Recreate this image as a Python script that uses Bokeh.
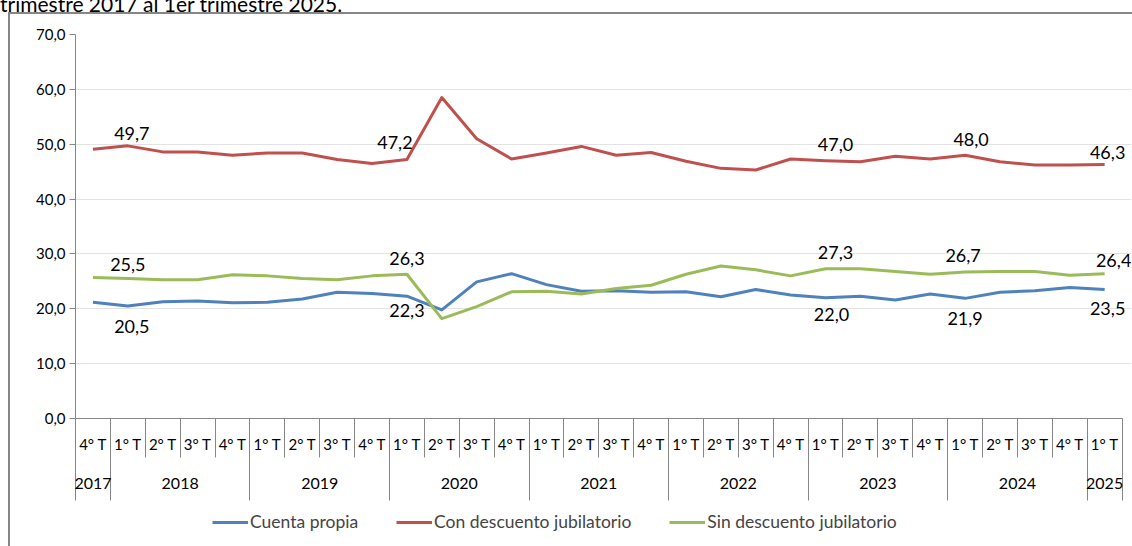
from bokeh.plotting import figure
from bokeh.models import (Range1d, LinearAxis, FixedTicker, ColumnDataSource, LabelSet,
                          Legend, LegendItem, CustomJSTickFormatter, Div)
from bokeh.layouts import column
from bokeh.core.properties import value
from bokeh.embed import file_html
from bokeh.resources import INLINE

# ---------------- data ----------------
title_text = "trimestre 2017 al 1er trimestre 2025."
years = ["2017", "2018", "2019", "2020", "2021", "2022", "2023", "2024", "2025"]
year_quarters = [
    ["4° T"],
    ["1° T", "2° T", "3° T", "4° T"],
    ["1° T", "2° T", "3° T", "4° T"],
    ["1° T", "2° T", "3° T", "4° T"],
    ["1° T", "2° T", "3° T", "4° T"],
    ["1° T", "2° T", "3° T", "4° T"],
    ["1° T", "2° T", "3° T", "4° T"],
    ["1° T", "2° T", "3° T", "4° T"],
    ["1° T"],
]
series_names = ["Cuenta propia", "Con descuento jubilatorio", "Sin descuento jubilatorio"]
cuenta_propia = [21.2, 20.5, 21.3, 21.4, 21.1, 21.2, 21.8, 23.0, 22.8, 22.3,
                 19.8, 24.9, 26.4, 24.4, 23.2, 23.3, 23.0, 23.1, 22.2, 23.5,
                 22.5, 22.0, 22.3, 21.6, 22.7, 21.9, 23.0, 23.3, 23.9, 23.5]
con_descuento = [49.1, 49.7, 48.6, 48.6, 48.0, 48.4, 48.4, 47.2, 46.5, 47.2,
                 58.5, 51.0, 47.3, 48.4, 49.6, 48.0, 48.5, 46.9, 45.6, 45.3,
                 47.3, 47.0, 46.8, 47.8, 47.3, 48.0, 46.8, 46.2, 46.2, 46.3]
sin_descuento = [25.7, 25.5, 25.3, 25.3, 26.2, 26.0, 25.5, 25.3, 26.0, 26.3,
                 18.2, 20.4, 23.1, 23.2, 22.7, 23.7, 24.3, 26.3, 27.8, 27.1,
                 26.0, 27.3, 27.3, 26.8, 26.3, 26.7, 26.8, 26.8, 26.1, 26.4]
labelled_points = [1, 9, 21, 25, 29]

# ---------------- styles ----------------
FONT = "Lato"
colors = ["#4F81BD", "#C0504D", "#9BBB59"]
axis_gray = "#868686"
# label offsets in screen px (dx, dy), per series, per labelled point
label_dx = [[4, 0, 6, 0, 3], [4, -12, 10, 6, 3], [0, 0, 10, -2, 9]]
label_dy = [[-20, -14, -17, -20, -19], [12, 17, 16, 16, 12], [14, 16, 16, 17, 13]]
left_border = f"linear-gradient({axis_gray},{axis_gray}) 8px 0px / 2px 100% no-repeat"
top_border = f"linear-gradient({axis_gray},{axis_gray}) 8px 0px / 100% 2px no-repeat"

quarters = [q for qs in year_quarters for q in qs]
n = len(quarters)
xs = list(range(n))
all_series = [cuenta_propia, con_descuento, sin_descuento]

p = figure(width=1132, height=493, x_range=Range1d(-0.5, n - 0.5 + 0.27), y_range=Range1d(0, 70),
           x_axis_type=None, output_backend="svg", toolbar_location=None,
           min_border_left=75, min_border_right=1, min_border_top=22, min_border_bottom=87)
p.outline_line_color = None
p.background_fill_color = "white"
p.border_fill_alpha = 0
p.styles = {"background": f"{left_border}, {top_border}, white"}

# y axis
ya = p.yaxis[0]
ya.ticker = FixedTicker(ticks=list(range(0, 71, 10)))
ya.formatter = CustomJSTickFormatter(code="return tick.toFixed(1).replace('.', ',');")
ya.major_tick_out = 6
ya.major_tick_in = 0
ya.minor_tick_out = 0
ya.minor_tick_in = 0
ya.axis_line_color = axis_gray
ya.major_tick_line_color = axis_gray
ya.major_label_text_font = FONT
ya.major_label_text_font_size = "15px"
ya.major_label_text_color = "black"
ya.major_label_standoff = 4
p.ygrid.grid_line_color = "#E3E3E3"
p.ygrid.ticker = FixedTicker(ticks=list(range(10, 71, 10)))
p.ygrid.bounds = (-0.5, n - 0.5)
p.xgrid.grid_line_color = None

# x axis: quarters (separators = minor ticks at category boundaries)
qa = LinearAxis(
    ticker=FixedTicker(ticks=xs, minor_ticks=[i - 0.5 for i in range(n + 1)]),
    formatter=CustomJSTickFormatter(args=dict(labels=quarters), code="return labels[index];"),
    bounds=(-0.5, n - 0.5),
)
qa.major_tick_out = 0
qa.major_tick_in = 0
qa.minor_tick_out = 39
qa.minor_tick_in = 0
qa.minor_tick_line_color = axis_gray
qa.axis_line_color = axis_gray
qa.major_label_text_font = FONT
qa.major_label_text_font_size = "15px"
qa.major_label_text_color = "black"
qa.major_label_standoff = -23
p.add_layout(qa, "below")

# x axis: years
year_centers, year_bounds = [], [-0.5]
start = 0
for qs in year_quarters:
    year_centers.append(start + (len(qs) - 1) / 2)
    start += len(qs)
    year_bounds.append(start - 0.5)
ya2 = LinearAxis(
    ticker=FixedTicker(ticks=year_centers, minor_ticks=year_bounds),
    formatter=CustomJSTickFormatter(args=dict(labels=years), code="return labels[index];"),
    bounds=(-0.5, n - 0.5),
)
ya2.major_tick_out = 0
ya2.major_tick_in = 0
ya2.minor_tick_out = 45
ya2.minor_tick_in = 0
ya2.minor_tick_line_color = axis_gray
ya2.axis_line_color = None
ya2.major_label_text_font = FONT
ya2.major_label_text_font_size = "16px"
ya2.major_label_text_color = "black"
ya2.major_label_standoff = -23
p.add_layout(ya2, "below")

# lines
for vals, col in zip(all_series, colors):
    src = ColumnDataSource(dict(x=xs, y=vals))
    p.line("x", "y", source=src, line_color=col, line_width=3, line_join="round")

# data labels
for k, vals in enumerate(all_series):
    lsrc = ColumnDataSource(dict(
        x=[xs[i] for i in labelled_points],
        y=[vals[i] for i in labelled_points],
        t=[f"{vals[i]:.1f}".replace(".", ",") for i in labelled_points],
        dx=label_dx[k],
        dy=label_dy[k],
    ))
    ls = LabelSet(x="x", y="y", text="t", source=lsrc, x_offset="dx", y_offset="dy",
                  text_align="center", text_baseline="middle", text_font=value(FONT),
                  text_font_size=value("18px"), text_color="black")
    p.add_layout(ls)

# legend strip under the chart (its lines fall outside its own ranges; only the legend shows)
lg = figure(width=1132, height=41, x_range=Range1d(0, 1), y_range=Range1d(0, 1),
            x_axis_type=None, y_axis_type=None, output_backend="svg", toolbar_location=None,
            min_border_left=0, min_border_right=0, min_border_top=0, min_border_bottom=0)
lg.outline_line_color = None
lg.xgrid.grid_line_color = None
lg.ygrid.grid_line_color = None
lg.background_fill_alpha = 0
lg.border_fill_alpha = 0
lg.styles = {"background": f"{left_border}, white"}
items = []
for name, vals, col in zip(series_names, all_series, colors):
    r = lg.line(x=xs, y=vals, line_color=col, line_width=3)
    items.append(LegendItem(label=name, renderers=[r]))
legend = Legend(items=items, orientation="horizontal", location=(137, 14),
                border_line_color=None, background_fill_alpha=0,
                label_text_font=FONT, label_text_font_size="17.5px",
                glyph_width=36, glyph_height=16, label_standoff=2, spacing=38,
                margin=0, padding=0)
lg.add_layout(legend, "center")

title = Div(text=f'<div style="margin-top:-18px;font-size:21px;line-height:21px;font-family:Lato;white-space:nowrap;color:black">{title_text}</div>',
            width=600, height=12, margin=0, styles={"overflow": "hidden"})

layout = column(title, p, lg, spacing=0)
open("out.html", "w").write(file_html(layout, INLINE))
